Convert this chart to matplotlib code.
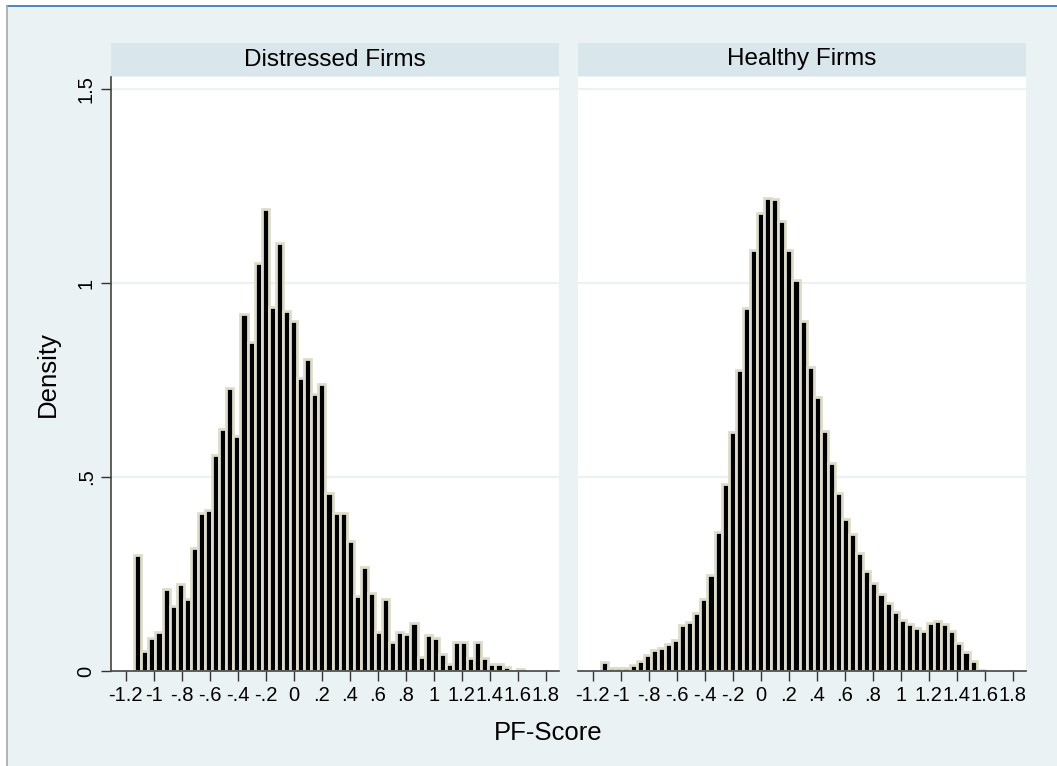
import numpy as np
import matplotlib.pyplot as plt
from matplotlib.patches import Rectangle
from matplotlib.lines import Line2D

plt.rcParams['font.family'] = ['Liberation Sans', 'DejaVu Sans']

# histogram bins (centre of first bin and bin width)
bin_start = -1.114
bin_width = 0.0506

distressed = [0.300, 0.052, 0.086, 0.101, 0.211, 0.168, 0.224, 0.185, 0.317, 0.408,
              0.416, 0.556, 0.623, 0.730, 0.605, 0.921, 0.847, 1.052, 1.192, 0.937,
              1.102, 0.928, 0.903, 0.754, 0.803, 0.713, 0.739, 0.459, 0.408, 0.408,
              0.334, 0.194, 0.267, 0.200, 0.101, 0.185, 0.076, 0.101, 0.095, 0.125,
              0.036, 0.093, 0.084, 0.045, 0.019, 0.076, 0.076, 0.034, 0.076, 0.034,
              0.019, 0.019, 0.010, 0.000, 0.004]

healthy = [0.023, 0.009, 0.007, 0.009, 0.015, 0.026, 0.041, 0.054, 0.060, 0.069,
           0.080, 0.118, 0.127, 0.149, 0.186, 0.248, 0.357, 0.483, 0.615, 0.777,
           0.936, 1.086, 1.180, 1.219, 1.216, 1.160, 1.086, 1.008, 0.902, 0.784,
           0.706, 0.619, 0.535, 0.459, 0.393, 0.354, 0.304, 0.259, 0.226, 0.199,
           0.174, 0.153, 0.131, 0.121, 0.112, 0.102, 0.123, 0.130, 0.121, 0.102,
           0.073, 0.050, 0.026, 0.003]

panels = ["Distressed Firms", "Healthy Firms"]
xticks = [-1.2, -1, -0.8, -0.6, -0.4, -0.2, 0, 0.2, 0.4, 0.6, 0.8, 1, 1.2, 1.4, 1.6, 1.8]
xtick_labels = ["-1.2", "-1", "-.8", "-.6", "-.4", "-.2", "0", ".2", ".4", ".6", ".8",
                "1", "1.2", "1.4", "1.6", "1.8"]
yticks = [0, 0.5, 1, 1.5]
ytick_labels = ["0", ".5", "1", "1.5"]

bg = '#eaf2f3'
strip_col = '#d9e6eb'

W, H = 1057, 766
fig = plt.figure(figsize=(W / 100, H / 100), dpi=100, facecolor='white')

# Stata graph region with the page frame around it
fig.patches.append(Rectangle((7 / W, 0), 1 - 7 / W, 1 - 6 / H, transform=fig.transFigure,
                             facecolor=bg, edgecolor='none', zorder=-5))
fig.lines.append(Line2D([7 / W, 1], [1 - 6 / H, 1 - 6 / H], transform=fig.transFigure,
                        color='#2f72b8', lw=1.2, zorder=-4))
fig.lines.append(Line2D([7 / W, 7 / W], [0, 1 - 6 / H], transform=fig.transFigure,
                        color='#a8a8a8', lw=1.2, zorder=-4))

ax_left_px = [111, 578]
ax_w = 448
ax_top, ax_bot = 77, 671

for i, (name, vals) in enumerate(zip(panels, [distressed, healthy])):
    ax = fig.add_axes([ax_left_px[i] / W, (H - ax_bot) / H, ax_w / W, (ax_bot - ax_top) / H])
    ax.set_facecolor('white')
    centres = bin_start + bin_width * np.arange(len(vals))
    ax.bar(centres, vals, width=bin_width, color='black', edgecolor='#dedcc9',
           linewidth=2.0, zorder=3)
    ax.set_xlim(-1.305, 1.895)
    ax.set_ylim(0, 1.531)
    for y in [0.5, 1, 1.5]:
        ax.axhline(y, color=bg, lw=1.6, zorder=1)
    ax.set_xticks(xticks)
    ax.set_xticklabels(xtick_labels, fontsize=14.5)
    ax.tick_params(axis='x', length=7, width=1, color='#333333', pad=4)
    for s in ['top', 'right']:
        ax.spines[s].set_visible(False)
    ax.spines['bottom'].set_color('#444444')
    ax.spines['bottom'].set_linewidth(1.2)
    ax.spines['bottom'].set_zorder(4)
    if i == 0:
        ax.set_yticks(yticks)
        ax.set_yticklabels(ytick_labels, fontsize=14.5, rotation=90, va='center')
        ax.tick_params(axis='y', length=7, width=1, color='#333333', pad=4)
        ax.spines['left'].set_color('#444444')
        ax.spines['left'].set_linewidth(1.2)
        ax.set_ylabel("Density", fontsize=18.5, labelpad=12)
    else:
        ax.set_yticks([])
        ax.spines['left'].set_visible(False)

    # panel header strip
    sx = fig.add_axes([ax_left_px[i] / W, (H - 76) / H, ax_w / W, 33 / H])
    sx.set_facecolor(strip_col)
    sx.set_xticks([])
    sx.set_yticks([])
    for s in sx.spines.values():
        s.set_visible(False)
    sx.text(0.5, 0.5, name, ha='center', va='center', fontsize=17.5, transform=sx.transAxes)

fig.text(548 / W, 1 - 733 / H, "PF-Score", ha='center', va='center', fontsize=18.5)

fig.savefig("out.png", dpi=100, facecolor=fig.get_facecolor())
